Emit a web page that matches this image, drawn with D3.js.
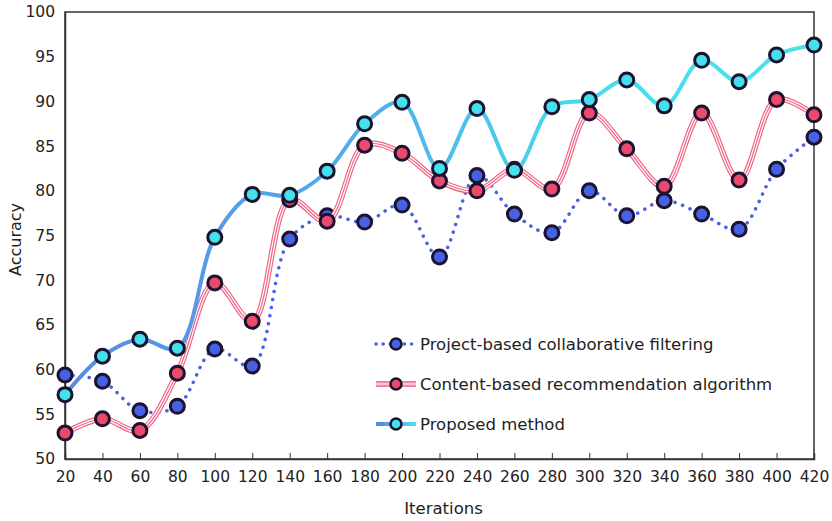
<!DOCTYPE html>
<html>
<head>
<meta charset="utf-8">
<script src="https://cdn.jsdelivr.net/npm/d3@7"></script>
<style>
  body { margin: 0; background: #fff; }
  text { font-family: "DejaVu Sans", Verdana, sans-serif; fill: #222; }
</style>
</head>
<body>
<svg id="chart" width="832" height="521"></svg>
<script>
const iterations = [20, 40, 60, 80, 100, 120, 140, 160, 180, 200, 220, 240, 260, 280, 300, 320, 340, 360, 380, 400, 420];
const projectBased = [59.4, 58.7, 55.4, 55.9, 62.3, 60.4, 74.6, 77.2, 76.5, 78.4, 72.6, 81.7, 77.4, 75.3, 80.0, 77.2, 78.9, 77.4, 75.7, 82.4, 86.0];
const contentBased = [52.9, 54.5, 53.2, 59.6, 69.7, 65.4, 79.0, 76.6, 85.1, 84.2, 81.1, 80.0, 82.4, 80.2, 88.7, 84.7, 80.5, 88.7, 81.2, 90.2, 88.5];
const proposed = [57.2, 61.5, 63.4, 62.4, 74.8, 79.6, 79.5, 82.2, 87.5, 89.9, 82.5, 89.2, 82.3, 89.4, 90.2, 92.4, 89.5, 94.6, 92.2, 95.2, 96.3];
const seriesNames = ["Project-based collaborative filtering", "Content-based recommendation algorithm", "Proposed method"];
const yTicks = [50, 55, 60, 65, 70, 75, 80, 85, 90, 95, 100];

const svg = d3.select("#chart");
const margin = { top: 12, right: 18, bottom: 62, left: 65 };
const width = 832 - margin.left - margin.right;
const height = 521 - margin.top - margin.bottom;

const x = d3.scaleLinear().domain([20, 420]).range([0, width]);
const y = d3.scaleLinear().domain([50, 100]).range([height, 0]);

const defs = svg.append("defs");
const grad = defs.append("linearGradient")
  .attr("id", "propGrad")
  .attr("gradientUnits", "userSpaceOnUse")
  .attr("x1", 0).attr("x2", width).attr("y1", 0).attr("y2", 0);
grad.append("stop").attr("offset", "0").attr("stop-color", "#5a88e4");
grad.append("stop").attr("offset", "0.45").attr("stop-color", "#4fb4ea");
grad.append("stop").attr("offset", "0.7").attr("stop-color", "#48dcee");
grad.append("stop").attr("offset", "1").attr("stop-color", "#4ae2ec");

const legGrad = defs.append("linearGradient").attr("id", "legGrad");
legGrad.append("stop").attr("offset", "0").attr("stop-color", "#5a88e4");
legGrad.append("stop").attr("offset", "1").attr("stop-color", "#48e0ee");

const g = svg.append("g").attr("transform", "translate(" + margin.left + "," + margin.top + ")");

// frame
g.append("rect")
  .attr("width", width).attr("height", height)
  .attr("fill", "none").attr("stroke", "#333").attr("stroke-width", 1.5);

// axes
const xAxis = g.append("g").attr("transform", "translate(0," + height + ")")
  .call(d3.axisBottom(x).tickValues(iterations).tickFormat(d3.format("d")).tickSize(-6).tickPadding(12));
const yAxis = g.append("g")
  .call(d3.axisLeft(y).tickValues(yTicks).tickSize(0).tickPadding(10));
[xAxis, yAxis].forEach(function(a) {
  a.select(".domain").attr("stroke", "#333").attr("stroke-width", 1.5);
  a.selectAll(".tick line").attr("stroke", "#333");
  a.selectAll(".tick text").attr("font-size", 15.5).attr("fill", "#222")
    .style("font-family", "'DejaVu Sans', Verdana, sans-serif");
});

svg.append("text")
  .attr("x", margin.left + width / 2 + 4).attr("y", 514)
  .attr("text-anchor", "middle").attr("font-size", 16.5)
  .text("Iterations");
svg.append("text")
  .attr("transform", "translate(21," + (margin.top + height / 2 + 4) + ") rotate(-90)")
  .attr("text-anchor", "middle").attr("font-size", 16)
  .text("Accuracy");

const line = d3.line()
  .x(function(d, i) { return x(iterations[i]); })
  .y(function(d) { return y(d); })
  .curve(d3.curveCatmullRom.alpha(0.5));

function drawMarkers(data, fill) {
  g.append("g").selectAll("circle")
    .data(data).enter().append("circle")
    .attr("cx", function(d, i) { return x(iterations[i]); })
    .attr("cy", function(d) { return y(d); })
    .attr("r", 7)
    .attr("fill", fill)
    .attr("stroke", "#1c1330")
    .attr("stroke-width", 3);
}

// project-based (dotted)
g.append("path").datum(projectBased)
  .attr("d", line).attr("fill", "none")
  .attr("stroke", "#4a5ee6").attr("stroke-width", 3.5)
  .attr("stroke-linecap", "round").attr("stroke-dasharray", "0.1 8");
drawMarkers(projectBased, "#4561e4");

// content-based (triple stripe)
g.append("path").datum(contentBased)
  .attr("d", line).attr("fill", "none")
  .attr("stroke", "#f06585").attr("stroke-width", 6);
g.append("path").datum(contentBased)
  .attr("d", line).attr("fill", "none")
  .attr("stroke", "#fff").attr("stroke-width", 3.6);
g.append("path").datum(contentBased)
  .attr("d", line).attr("fill", "none")
  .attr("stroke", "#f06585").attr("stroke-width", 1.2);
drawMarkers(contentBased, "#ec4a6c");

// proposed (gradient)
g.append("path").datum(proposed)
  .attr("d", line).attr("fill", "none")
  .attr("stroke", "url(#propGrad)").attr("stroke-width", 4);
drawMarkers(proposed, "#44e0ec");

// legend
const legend = svg.append("g").attr("transform", "translate(376,344)");
const rowGap = 40;
seriesNames.forEach(function(name, i) {
  const row = legend.append("g").attr("transform", "translate(0," + (i * rowGap) + ")");
  if (i === 0) {
    row.append("line").attr("x1", 0).attr("x2", 40)
      .attr("stroke", "#4a5ee6").attr("stroke-width", 3.5)
      .attr("stroke-linecap", "round").attr("stroke-dasharray", "0.1 7");
  } else if (i === 1) {
    row.append("line").attr("x1", 0).attr("x2", 40).attr("stroke", "#f47c98").attr("stroke-width", 6);
    row.append("line").attr("x1", 0).attr("x2", 40).attr("stroke", "#ffc4d0").attr("stroke-width", 2.5);
  } else {
    row.append("rect").attr("x", 0).attr("y", -2).attr("width", 40).attr("height", 4)
      .attr("fill", "url(#legGrad)");
  }
  row.append("circle").attr("cx", 20).attr("cy", 0).attr("r", 5.5)
    .attr("fill", ["#4561e4", "#ec4a6c", "#44e0ec"][i])
    .attr("stroke", "#1c1330").attr("stroke-width", 2.5);
  row.append("text").attr("x", 44).attr("y", 6).attr("font-size", 16.5).text(name);
});
</script>
</body>
</html>
